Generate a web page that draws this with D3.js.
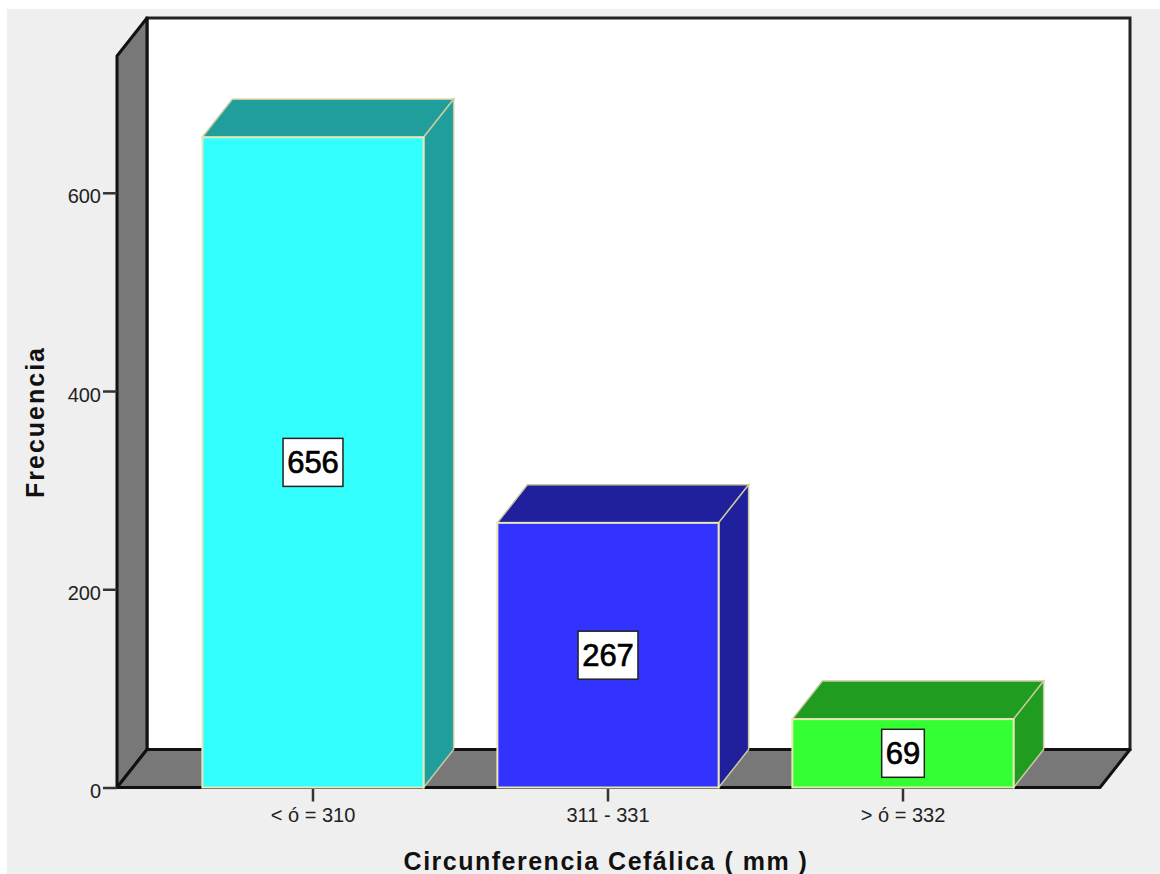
<!DOCTYPE html>
<html>
<head>
<meta charset="utf-8">
<script src="https://cdnjs.cloudflare.com/ajax/libs/d3/7.8.5/d3.min.js"></script>
<style>
  html, body { margin: 0; padding: 0; background: #fff; overflow: hidden; }
  svg { display: block; font-family: "Liberation Sans", Arial, sans-serif; }
  .axis text { font-size: 20px; fill: #222; }
  .axis path { display: none; }
  .axis line { stroke: #333; stroke-width: 2.5px; }
  .title { font-size: 25px; font-weight: bold; fill: #111; }
  .value { font-size: 31px; fill: #000; stroke: #000; stroke-width: 0.7px; text-anchor: middle; }
</style>
</head>
<body>
<div id="chart"></div>
<script>
var categories = ['< ó = 310', '311 - 331', '> ó = 332'];
var counts = [656, 267, 69];
var yTicks = [0, 200, 400, 600];
var yMax = 738;

var frontColors = ['#33ffff', '#3333ff', '#33ff33'];
var sideColors = ['#1f9e9c', '#20209c', '#209c20'];

var width = 1160, height = 874;
var left = 117, right = 1100;   // front edge of the floor
var depthX = 30, depthY = 38;   // offset of the back plane

var svg = d3.select('#chart').append('svg')
    .attr('width', width)
    .attr('height', height);

svg.append('rect')
    .attr('x', 7).attr('y', 9)
    .attr('width', width - 7).attr('height', height - 9)
    .attr('fill', '#efefef');

var y = d3.scaleLinear().domain([0, yMax]).range([787.5, 56]);
var x = d3.scaleBand().domain(categories).range([165.5, 1050.5])
    .paddingInner(0.25).paddingOuter(0.125);

var pts = function(arr) { return arr.map(function(p) { return p.join(','); }).join(' '); };
var y0 = y(0), yTop = y(yMax);

// back plane, left wall, floor
svg.append('rect')
    .attr('x', left + depthX).attr('y', yTop - depthY)
    .attr('width', right - left).attr('height', y0 - yTop)
    .attr('fill', '#fff')
    .attr('stroke', '#222')
    .attr('stroke-width', 3);

svg.append('polygon')
    .attr('points', pts([[left, yTop], [left + depthX, yTop - depthY], [left + depthX, y0 - depthY], [left, y0]]))
    .attr('fill', '#787878')
    .attr('stroke', '#111')
    .attr('stroke-width', 3)
    .attr('stroke-linejoin', 'round');

svg.append('polygon')
    .attr('points', pts([[left, y0], [left + depthX, y0 - depthY], [right + depthX, y0 - depthY], [right, y0]]))
    .attr('fill', '#787878')
    .attr('stroke', '#111')
    .attr('stroke-width', 3)
    .attr('stroke-linejoin', 'round');

// axes
var yAxis = d3.axisLeft(y).tickValues(yTicks).tickSize(14).tickPadding(2).tickFormat(d3.format('d'));
svg.append('g')
    .attr('class', 'axis')
    .attr('transform', 'translate(' + left + ',0)')
    .call(yAxis)
    .selectAll('text')
    .attr('dy', '0.5em');

var xAxis = d3.axisBottom(x).tickSize(13).tickPadding(6);
svg.append('g')
    .attr('class', 'axis')
    .attr('transform', 'translate(0,' + (y0 + 1) + ')')
    .call(xAxis);

// bars
var data = categories.map(function(c, i) {
  return {cat: c, n: counts[i], front: frontColors[i], side: sideColors[i]};
});

var bars = svg.selectAll('.bar').data(data)
    .enter().append('g')
    .attr('class', 'bar');

bars.append('polygon')
    .attr('points', function(d) {
      var a = x(d.cat), b = a + x.bandwidth(), t = y(d.n);
      return pts([[a, t], [a + depthX, t - depthY], [b + depthX, t - depthY], [b, t]]);
    })
    .attr('fill', function(d) { return d.side; })
    .attr('stroke', '#c9c9a0')
    .attr('stroke-width', 1.5);

bars.append('polygon')
    .attr('points', function(d) {
      var b = x(d.cat) + x.bandwidth(), t = y(d.n);
      return pts([[b, t], [b + depthX, t - depthY], [b + depthX, y0 - depthY], [b, y0]]);
    })
    .attr('fill', function(d) { return d.side; })
    .attr('stroke', '#c9c9a0')
    .attr('stroke-width', 1.5);

bars.append('rect')
    .attr('x', function(d) { return x(d.cat); })
    .attr('y', function(d) { return y(d.n); })
    .attr('width', x.bandwidth())
    .attr('height', function(d) { return y0 - y(d.n); })
    .attr('fill', function(d) { return d.front; })
    .attr('stroke', '#e8e8b8')
    .attr('stroke-width', 2);

// value boxes in the middle of each bar
var boxes = bars.append('g')
    .attr('transform', function(d) {
      return 'translate(' + (x(d.cat) + x.bandwidth() / 2) + ',' + y(d.n / 2) + ')';
    });

boxes.append('rect')
    .attr('x', function(d) { return -(String(d.n).length * 17.3 + 8) / 2; })
    .attr('y', -24)
    .attr('width', function(d) { return String(d.n).length * 17.3 + 8; })
    .attr('height', 48)
    .attr('fill', '#fff')
    .attr('stroke', '#222')
    .attr('stroke-width', 1.5);

boxes.append('text')
    .attr('class', 'value')
    .attr('dy', 11)
    .text(function(d) { return d.n; });

// axis titles
svg.append('text')
    .attr('class', 'title')
    .attr('x', 606)
    .attr('y', 870)
    .attr('text-anchor', 'middle')
    .style('letter-spacing', '1.5px')
    .text('Circunferencia Cefálica ( mm )');

svg.append('text')
    .attr('class', 'title')
    .attr('transform', 'translate(44,422) rotate(-90)')
    .attr('text-anchor', 'middle')
    .style('letter-spacing', '2px')
    .text('Frecuencia');
</script>
</body>
</html>
